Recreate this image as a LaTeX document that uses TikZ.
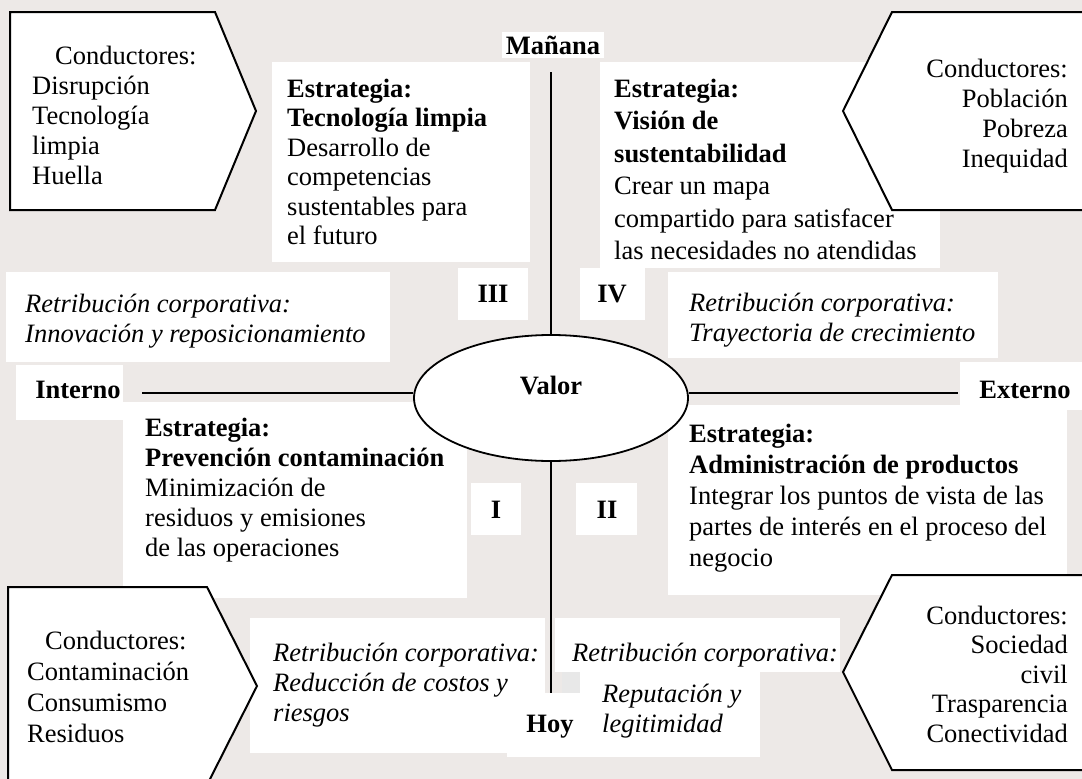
\documentclass[tikz,border=0pt]{standalone}
\usepackage{fontspec}
\setmainfont{Liberation Serif}
\usetikzlibrary{shapes.geometric}
\definecolor{bgtone}{RGB}{237,233,231}

\begin{document}
\begin{tikzpicture}[x=1pt,y=-1pt,
    txt/.style={font=\fontsize{26.5}{29.5}\selectfont,inner sep=0pt,align=left,anchor=base west},
    rtxt/.style={txt,align=right,anchor=base east},
    lbl/.style={font=\fontsize{26.5}{29.5}\selectfont\bfseries,inner sep=0pt},
    paper/.style={fill=white},
    driver/.style={draw,fill=white,line width=2pt,line join=miter},
    axis/.style={line width=1.1pt}]

  \useasboundingbox (0,0) rectangle (1082,779);
  \fill[bgtone] (0,0) rectangle (1082,779);

  % white boxes behind the texts
  \fill[paper] (272,62) rectangle (530,262);
  \fill[paper] (600,62) rectangle (940,268);
  \fill[paper] (458,268) rectangle (528,320);
  \fill[paper] (580,268) rectangle (645,320);
  \fill[paper] (6,272) rectangle (390,362);
  \fill[paper] (668,272) rectangle (998,358);
  \fill[paper] (16,365) rectangle (123,420);
  \fill[paper] (960,362) rectangle (1082,410);
  \fill[paper] (123,402) rectangle (467,598);
  \fill[paper] (471,483) rectangle (521,535);
  \fill[paper] (576,483) rectangle (637,535);
  \fill[paper] (668,405) rectangle (1067,595);
  \fill[paper] (250,618) rectangle (545,753);
  \fill[paper] (555,618) rectangle (840,672);
  \fill[paper] (580,672) rectangle (760,757);
  \fill[paper] (507,693) rectangle (580,757);
  \fill[gray!18] (562,672) rectangle (580,693);

  % axes and value
  \node[draw,ellipse,line width=1.8pt,fill=white,minimum width=274pt,minimum height=126pt,inner sep=0pt] (valor) at (551,398) {};
  \node[lbl] (valortxt) at (551,386) {Valor};
  \node[lbl,fill=white,inner sep=4pt] (manana) at (553,45) {Mañana};
  \node[lbl] (interno) at (78,390) {Interno};
  \node[lbl] (externo) at (1025,390) {Externo};
  \node[lbl,anchor=base] (hoy) at (550,732) {Hoy};
  \coordinate (topend) at (551,72);
  \coordinate (botend) at (551,693);
  \coordinate (westend) at (142,393);
  \coordinate (eastend) at (958,393);
  \draw[axis] (topend) -- (valor.north);
  \draw[axis] (valor.south) -- (botend);
  \draw[axis] (westend) -- (valor.west |- westend);
  \draw[axis] (valor.east |- eastend) -- (eastend);

  % quadrants
  \node[lbl] (q3) at (493,294) {III};
  \node[lbl] (q4) at (612,294) {IV};
  \node[lbl] (q1) at (496,510) {I};
  \node[lbl] (q2) at (607,510) {II};

  % strategies (anchored at the baseline of the last line)
  \node[txt] (stratIII) at (287,244.5) {\textbf{Estrategia:}\\\textbf{Tecnología limpia}\\Desarrollo de\\competencias\\sustentables para\\el futuro};
  \node[txt,font=\fontsize{26.5}{32.5}\selectfont] (stratIV) at (614,259.5) {\textbf{Estrategia:}\\\textbf{Visión de}\\\textbf{sustentabilidad}\\Crear un mapa\\compartido para satisfacer\\las necesidades no atendidas};
  \node[txt,font=\fontsize{26.5}{30}\selectfont] (stratI) at (145,556) {\textbf{Estrategia:}\\\textbf{Prevención contaminación}\\Minimización de\\residuos y emisiones\\de las operaciones};
  \node[txt,font=\fontsize{26.5}{31}\selectfont] (stratII) at (689,566) {\textbf{Estrategia:}\\\textbf{Administración de productos}\\Integrar los puntos de vista de las\\partes de interés en el proceso del\\negocio};

  % corporate returns
  \node[txt,font=\fontsize{26.5}{30}\selectfont\itshape] (retIII) at (25,342) {Retribución corporativa:\\Innovación y reposicionamiento};
  \node[txt,font=\fontsize{26.5}{30}\selectfont\itshape] (retIV) at (689,341) {Retribución corporativa:\\Trayectoria de crecimiento};
  \node[txt,font=\fontsize{26.5}{30}\selectfont\itshape] (retI) at (273,721) {Retribución corporativa:\\Reducción de costos y\\riesgos};
  \node[txt,font=\fontsize{26.5}{30}\selectfont\itshape] (retII) at (572,661) {Retribución corporativa:};
  \node[txt,font=\fontsize{26.5}{30}\selectfont\itshape] (retIIb) at (602,732) {Reputación y\\legitimidad};

  % drivers
  \draw[driver] (10,12) -- (215,12) -- (256,111) -- (215,210) -- (10,210) -- cycle;
  \draw[driver] (1095,12) -- (892,12) -- (843,111) -- (892,210) -- (1095,210) -- cycle;
  \draw[driver] (8,587) -- (207,587) -- (257,686) -- (207,785) -- (8,785) -- cycle;
  \draw[driver] (1095,575) -- (892,575) -- (843,672) -- (892,770) -- (1095,770) -- cycle;
  \node[txt,font=\fontsize{26.5}{30}\selectfont] (drvIII) at (32,184) {\hspace*{23pt}Conductores:\\Disrupción\\Tecnología\\limpia\\Huella};
  \node[rtxt,font=\fontsize{26.5}{30}\selectfont] (drvIV) at (1068,167) {Conductores:\\Población\\Pobreza\\Inequidad};
  \node[txt,font=\fontsize{26.5}{31}\selectfont] (drvI) at (27,742) {\hspace*{18pt}Conductores:\\Contaminación\\Consumismo\\Residuos};
  \node[rtxt] (drvII) at (1068,742) {Conductores:\\Sociedad\\civil\\Trasparencia\\Conectividad};

\end{tikzpicture}
\end{document}
